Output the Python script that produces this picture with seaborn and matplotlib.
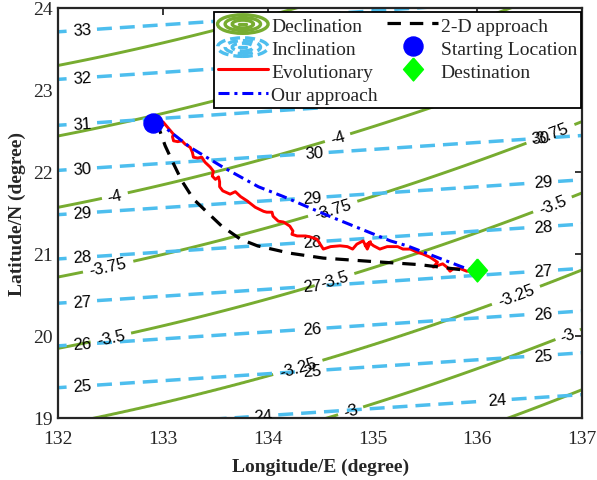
import numpy as np
import matplotlib
matplotlib.use("Agg")
import matplotlib.pyplot as plt
import seaborn as sns
from matplotlib.lines import Line2D
from matplotlib.patches import Ellipse
from matplotlib.legend_handler import HandlerBase

# ---------------- data ----------------
# Declination field: latitude where each level crosses lon=132, plus bend of the lines
decl_levels = [-5.25, -5.0, -4.75, -4.5, -4.25, -4.0, -3.75, -3.5, -3.25, -3.0, -2.75, -2.5, -2.25]
decl_lat_at_132 = [25.85, 25.0, 24.15, 23.30, 22.44, 21.57, 20.72, 19.85, 18.91, 18.19, 17.45, 16.75, 16.05]
decl_bend = (0.249, 0.026)          # lat shift = a*(lon-132) + b*(lon-132)^2
decl_draw = [-4.75, -4.5, -4.25, -4.0, -3.75, -3.5, -3.25, -3.0, -2.75]

# Inclination field
incl_levels = [22, 23, 24, 25, 26, 27, 28, 29, 30, 31, 32, 33, 34, 35]
incl_lat_at_132 = [17.84, 18.35, 18.86, 19.37, 19.88, 20.40, 20.94, 21.48, 22.02, 22.57, 23.13, 23.71, 24.27, 24.83]
incl_tilt = 0.085
incl_draw = [24, 25, 26, 27, 28, 29, 30, 31, 32, 33]

# contour label positions (lon, lat)
incl_label_lon = [132.23, 132.23, 132.23, 132.23, 132.23, 132.23, 132.23, 132.23, 132.23, 133.96,
                  134.44, 134.42, 134.42, 134.42, 134.42, 134.42,
                  136.60, 136.63, 136.63, 136.63, 136.63, 136.63, 136.19]
incl_label_lat = [23.71, 23.13, 22.57, 22.02, 21.48, 20.94, 20.40, 19.88, 19.37, 19.01,
                  22.24, 21.70, 21.15, 20.61, 20.09, 19.56,
                  22.44, 21.90, 21.35, 20.80, 20.27, 19.73, 19.17]
decl_label_lon = [132.54, 134.67, 132.48, 134.62, 136.70, 132.51, 134.62, 136.71, 134.26, 136.33, 134.79, 136.84]
decl_label_lat = [21.71, 22.40, 20.82, 21.55, 22.46, 19.93, 20.76, 21.63, 19.72, 20.63, 19.09, 20.09]

# paths
evo_lon = [132.905, 133.00, 133.04, 133.10, 133.09, 133.10, 133.14, 133.18, 133.21, 133.26, 133.28, 133.29,
           133.33, 133.37, 133.40, 133.45, 133.48, 133.47, 133.50, 133.53, 133.54, 133.54, 133.57, 133.64,
           133.69, 133.74, 133.80, 133.88, 133.96, 133.99, 134.04, 134.05, 134.10, 134.15, 134.21, 134.24,
           134.23, 134.28, 134.36, 134.40, 134.47, 134.50, 134.53, 134.60, 134.69, 134.76, 134.81, 134.85,
           134.91, 134.95, 134.98, 134.93, 134.97, 135.01, 135.07, 135.14, 135.24, 135.29, 135.36, 135.43,
           135.48, 135.55, 135.62, 135.58, 135.67, 135.71, 135.74, 135.77, 135.84, 135.90, 136.0]
evo_lat = [22.598, 22.61, 22.55, 22.46, 22.43, 22.38, 22.37, 22.38, 22.34, 22.30, 22.24, 22.18,
           22.17, 22.18, 22.12, 22.06, 22.01, 21.95, 21.91, 21.94, 21.88, 21.82, 21.77, 21.73,
           21.76, 21.70, 21.65, 21.57, 21.52, 21.51, 21.51, 21.46, 21.40, 21.39, 21.34, 21.28,
           21.24, 21.22, 21.22, 21.21, 21.18, 21.12, 21.06, 21.09, 21.10, 21.09, 21.06, 21.12,
           21.16, 21.06, 21.15, 21.10, 21.14, 21.10, 21.06, 21.09, 21.09, 21.06, 21.06, 21.02,
           21.00, 20.96, 20.90, 20.84, 20.88, 20.84, 20.79, 20.82, 20.82, 20.79, 20.80]

our_lon = [132.905, 133.00, 133.26, 133.57, 133.91, 134.15, 134.59, 135.17, 135.33, 135.90, 136.0]
our_lat = [22.598, 22.56, 22.30, 22.06, 21.82, 21.70, 21.46, 21.16, 21.10, 20.82, 20.80]

twod_lon = [132.905, 132.97, 133.02, 133.10, 133.18, 133.29, 133.42, 133.56, 133.74, 133.90, 134.21,
            134.53, 134.98, 135.45, 135.90, 136.0]
twod_lat = [22.598, 22.50, 22.32, 22.10, 21.89, 21.67, 21.51, 21.34, 21.18, 21.10, 21.01,
            20.95, 20.91, 20.87, 20.80, 20.80]

start_pt = (132.905, 22.598)
dest_pt = (136.0, 20.80)

x_ticks = [132, 133, 134, 135, 136, 137]
y_ticks = [19, 20, 21, 22, 23, 24]

# ---------------- styling ----------------
sns.set_theme(style="white")
plt.rcParams["font.family"] = ["Liberation Serif", "DejaVu Serif"]
plt.rcParams["axes.unicode_minus"] = False

GREEN = "#77AC30"
CYAN = "#4DBEEE"
DARK = "#262626"

fig = plt.figure(figsize=(5.97, 4.81), dpi=100)
ax = fig.add_axes([0.0977, 0.1289, 0.8772, 0.8524])

lon = np.linspace(131.5, 137.5, 400)
lat = np.linspace(18.5, 24.5, 400)
LON, LAT = np.meshgrid(lon, lat)
dx = LON - 132.0
shift = decl_bend[0] * dx + decl_bend[1] * dx ** 2
D = np.interp(LAT - shift, decl_lat_at_132[::-1], decl_levels[::-1])
I = np.interp(LAT - incl_tilt * dx, incl_lat_at_132, incl_levels)

cs_d = ax.contour(LON, LAT, D, levels=decl_draw, colors=GREEN, linewidths=2.1,
                  linestyles="solid", negative_linestyles="solid", zorder=2)
cs_i = ax.contour(LON, LAT, I, levels=incl_draw, colors=CYAN, linewidths=2.5, zorder=2)
cs_d.set_linestyle("solid")
cs_i.set_linestyle((0, (4.3, 2.3)))

ax.clabel(cs_i, manual=list(zip(incl_label_lon, incl_label_lat)), inline=True,
          fontsize=12, fmt=lambda v: f"{v:g}", colors="black", inline_spacing=4)
ax.clabel(cs_d, manual=list(zip(decl_label_lon, decl_label_lat)), inline=True,
          fontsize=12, fmt=lambda v: f"{v:g}", colors="black", inline_spacing=4)
for t in list(cs_i.labelTexts) + list(cs_d.labelTexts):
    t.set_fontfamily("Liberation Sans")
    t.set_clip_on(True)

# paths
sns.lineplot(x=evo_lon, y=evo_lat, sort=False, estimator=None, color="red", lw=2.1, ax=ax, zorder=4)
sns.lineplot(x=twod_lon, y=twod_lat, sort=False, estimator=None, color="black", lw=2.3, ax=ax, zorder=5)
ax.lines[-1].set_linestyle((0, (4.2, 2.8)))
sns.lineplot(x=our_lon, y=our_lat, sort=False, estimator=None, color="blue", lw=2.2, ax=ax, zorder=6)
ax.lines[-1].set_linestyle((0, (3.6, 1.6, 1.0, 1.6)))

diamond = [(0, 1), (0.87, 0), (0, -1), (-0.87, 0), (0, 1)]
ax.plot([start_pt[0]], [start_pt[1]], marker="o", ms=13.7, color="blue", mec="blue", ls="none", zorder=8)
ax.plot([dest_pt[0]], [dest_pt[1]], marker=diamond, ms=16.5, color="#00FF00", mec="#00FF00", ls="none", zorder=8)

# axes
ax.set_xlim(132, 137)
ax.set_ylim(19, 24)
ax.set_xticks(x_ticks)
ax.set_yticks(y_ticks)
ax.tick_params(axis="both", direction="in", length=5, width=1.3, colors=DARK, labelsize=14,
               top=True, right=True, labelcolor=DARK)
ax.tick_params(axis="x", pad=9)
ax.tick_params(axis="y", pad=4)
for s in ax.spines.values():
    s.set_color(DARK)
    s.set_linewidth(1.6)
ax.set_xlabel("Longitude/E (degree)", fontsize=14, fontweight="bold", color=DARK, labelpad=7)
ax.set_ylabel("Latitude/N (degree)", fontsize=14, fontweight="bold", color=DARK, labelpad=5)


# legend
class ContourIcon(HandlerBase):
    def __init__(self, color, ls):
        super().__init__()
        self.color = color
        self.ls = ls

    def create_artists(self, legend, orig_handle, xdescent, ydescent, width, height, fontsize, trans):
        cx = width / 2 - xdescent
        cy = height / 2 - ydescent
        arts = []
        for f in (1.0, 0.70, 0.42):
            arts.append(Ellipse((cx, cy), width * f, height * 1.15 * f, fill=False,
                                edgecolor=self.color, lw=2.4, linestyle=self.ls, transform=trans))
        arts.append(Line2D([cx - width * 0.07, cx + width * 0.07], [cy, cy], color=self.color,
                           lw=2.4, transform=trans))
        return arts


h_decl = Line2D([], [], color=GREEN)
h_incl = Line2D([], [], color=CYAN)
h_evo = Line2D([], [], color="red", lw=2.2)
h_our = Line2D([], [], color="blue", lw=2.2, ls=(0, (3.6, 1.6, 1.0, 1.6)))
h_2d = Line2D([], [], color="black", lw=2.3, ls=(0, (4.2, 2.8)))
h_start = Line2D([], [], marker="o", ms=13.7, color="blue", ls="none")
h_dest = Line2D([], [], marker=diamond, ms=16.5, color="#00FF00", ls="none")

leg = ax.legend([h_decl, h_incl, h_evo, h_our, h_2d, h_start, h_dest],
                ["Declination", "Inclination", "Evolutionary", "Our approach",
                 "2-D approach", "Starting Location", "Destination"],
                handler_map={h_decl: ContourIcon(GREEN, "-"), h_incl: ContourIcon(CYAN, (0, (3.0, 1.5)))},
                ncol=2, loc="upper right", bbox_to_anchor=(0.998, 0.99), borderaxespad=0,
                fontsize=14, frameon=True, fancybox=False, framealpha=1, edgecolor="black",
                handlelength=2.6, handleheight=0.9, handletextpad=0.15, labelspacing=0.22,
                columnspacing=0.5, borderpad=0.2)
leg.get_frame().set_linewidth(1.3)
leg.set_zorder(10)

fig.savefig("out.png", dpi=100)
